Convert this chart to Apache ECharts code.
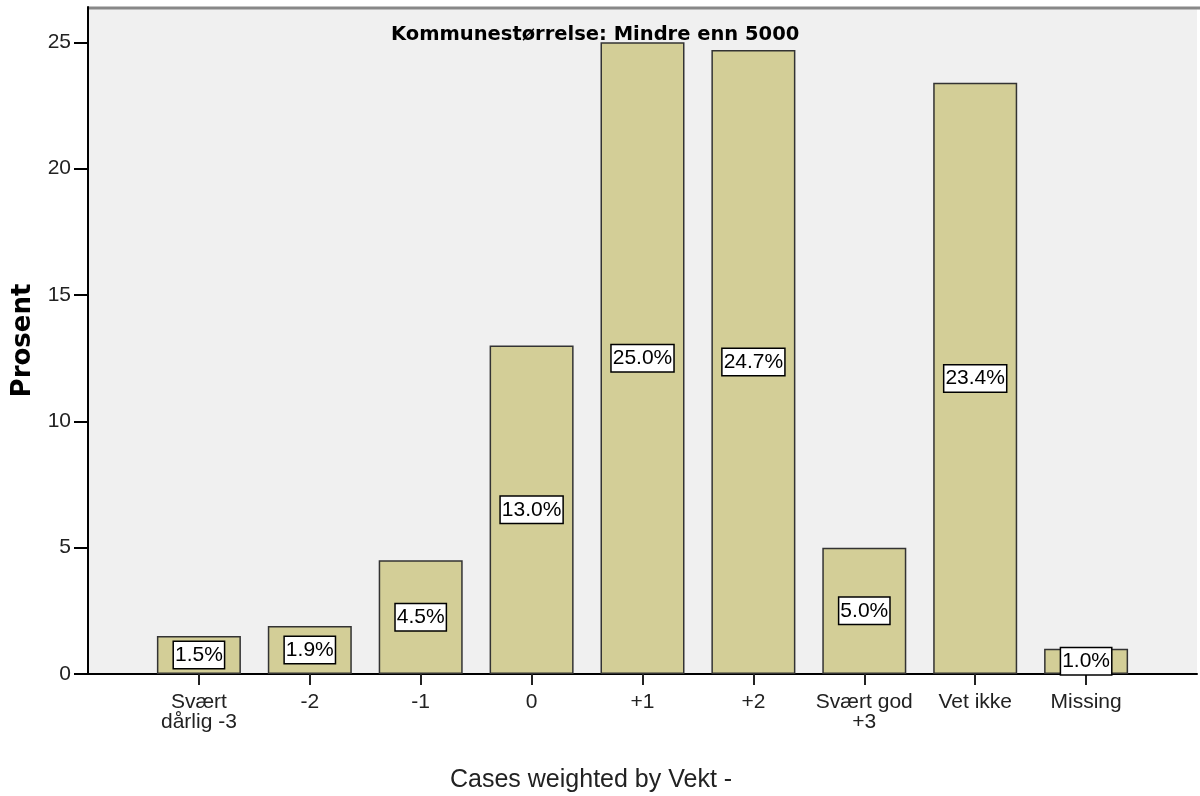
<!DOCTYPE html>
<html>
<head>
<meta charset="utf-8">
<script src="https://cdn.jsdelivr.net/npm/echarts@6/dist/echarts.min.js"></script>
<style>
  html, body { margin: 0; padding: 0; background: #fff; }
  #chart { width: 1200px; height: 796px; }
</style>
</head>
<body>
<div id="chart"></div>
<script>
// empty entries at both ends only pad the axis like the original
const categories = ['', 'Svært\ndårlig -3', '-2', '-1', '0', '+1', '+2', 'Svært god\n+3', 'Vet ikke', 'Missing', ''];
const prosent = [null, 1.5, 1.9, 4.5, 13.0, 25.0, 24.7, 5.0, 23.4, 1.0, null];
const yTicks = [0, 5, 10, 15, 20, 25];

let chartDom = document.getElementById('chart');
let myChart = echarts.init(chartDom);
let option;

option = {
  backgroundColor: '#fff',
  textStyle: { fontFamily: 'Liberation Sans, Arial, sans-serif' },
  title: [
    {
      text: 'Kommunestørrelse: Mindre enn 5000',
      left: 386,
      top: 20,
      textStyle: { fontFamily: 'DejaVu Sans', fontSize: 19.5, fontWeight: 'bold', color: '#000' }
    },
    {
      text: 'Cases weighted by Vekt -',
      left: 445,
      top: 763,
      textStyle: { fontSize: 25, fontWeight: 'normal', color: '#222' }
    }
  ],
  grid: {
    left: 88,
    right: 0,
    top: 7,
    bottom: 122,
    show: true,
    backgroundColor: '#f0f0f0',
    borderWidth: 0
  },
  xAxis: {
    type: 'category',
    data: categories,
    boundaryGap: false,
    axisLine: { lineStyle: { color: '#000', width: 2 } },
    axisTick: {
      length: 11,
      lineStyle: { color: '#222', width: 2 },
      interval: (i) => i > 0 && i < categories.length - 1
    },
    axisLabel: {
      interval: 0,
      color: '#222',
      fontSize: 21,
      margin: 18,
      lineHeight: 20
    },
    splitLine: { show: false }
  },
  yAxis: {
    type: 'value',
    min: 0,
    max: 26.4,
    name: 'Prosent',
    nameLocation: 'middle',
    nameGap: 49,
    nameTextStyle: { fontFamily: 'DejaVu Sans', fontSize: 26, fontWeight: 'bold', color: '#000' },
    axisLine: { show: true, lineStyle: { color: '#000', width: 2 } },
    axisTick: {
      show: true,
      length: 14,
      customValues: yTicks,
      lineStyle: { color: '#000', width: 2 }
    },
    axisLabel: {
      customValues: yTicks,
      color: '#222',
      fontSize: 21,
      margin: 17
    },
    splitLine: { show: false }
  },
  graphic: [
    {
      type: 'line',
      shape: { x1: 88, y1: 8, x2: 1200, y2: 8 },
      style: { stroke: '#888', lineWidth: 3 }
    }
  ],
  series: [
    {
      type: 'bar',
      data: prosent,
      barWidth: 84,
      itemStyle: {
        color: '#d3ce97',
        borderColor: '#333',
        borderWidth: 1.5
      },
      label: {
        show: true,
        position: 'inside',
        formatter: (p) => p.value.toFixed(1) + '%',
        color: '#000',
        fontSize: 21,
        lineHeight: 23,
        backgroundColor: '#fff',
        borderColor: '#000',
        borderWidth: 1.5,
        padding: [2, 1, 1, 1]
      }
    }
  ]
};

option && myChart.setOption(option);
</script>
</body>
</html>
